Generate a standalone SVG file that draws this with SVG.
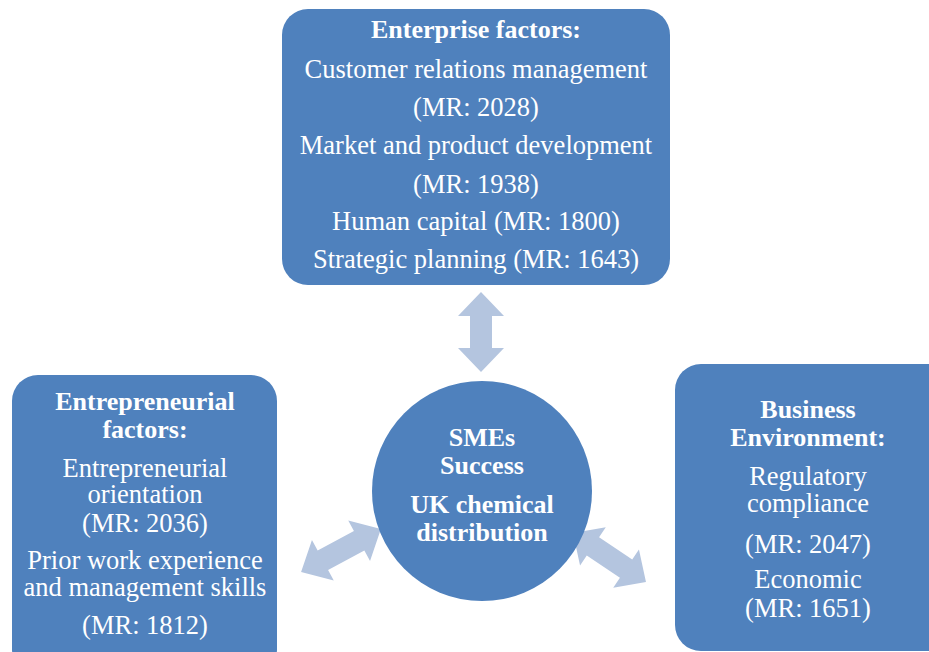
<svg xmlns="http://www.w3.org/2000/svg" width="929" height="652" viewBox="0 0 929 652">
<style>
.box{fill:#4F81BD;}
.arr{fill:#B4C5DF;}
text{font-family:"Liberation Serif","Times New Roman",serif;fill:#FFFFFF;text-anchor:middle;}
.t{font-size:26.5px;}
.b{font-size:26px;font-weight:bold;}
</style>
<defs>
<path id="dbl" d="M -44 0 L -20 -23 L -20 -11 L 20 -11 L 20 -23 L 44 0 L 20 23 L 20 11 L -20 11 L -20 23 Z"/>
</defs>
<g id="connectors">
<path class="arr" d="M -40 0 L -16 -23 L -16 -11 L 16 -11 L 16 -23 L 40 0 L 16 23 L 16 11 L -16 11 L -16 23 Z" transform="translate(481,332) rotate(90)"/>
<use href="#dbl" class="arr" transform="translate(341,550.5) rotate(-28.3) scale(1.03,1)"/>
<use href="#dbl" class="arr" transform="translate(609.5,557.5) rotate(34)"/>
</g>
<g id="enterprise">
<rect class="box" x="282" y="9" width="388" height="276" rx="26"/>
<text class="b" x="476" y="38">Enterprise factors:</text>
<text class="t" x="476" y="78">Customer relations management</text>
<text class="t" x="476" y="116">(MR: 2028)</text>
<text class="t" x="476" y="154">Market and product development</text>
<text class="t" x="476" y="193">(MR: 1938)</text>
<text class="t" x="476" y="230">Human capital (MR: 1800)</text>
<text class="t" x="476" y="268">Strategic planning (MR: 1643)</text>
</g>
<g id="entrepreneurial">
<rect class="box" x="12" y="375" width="265" height="300" rx="26"/>
<text class="b" x="145" y="410">Entrepreneurial</text>
<text class="b" x="145" y="438">factors:</text>
<text class="t" x="145" y="477">Entrepreneurial</text>
<text class="t" x="145" y="503">orientation</text>
<text class="t" x="145" y="532">(MR: 2036)</text>
<text class="t" x="145" y="569">Prior work experience</text>
<text class="t" x="145" y="596">and management skills</text>
<text class="t" x="145" y="634">(MR: 1812)</text>
</g>
<g id="business">
<rect class="box" x="675" y="364" width="290" height="287" rx="26"/>
<text class="b" x="808" y="418">Business</text>
<text class="b" x="808" y="446">Environment:</text>
<text class="t" x="808" y="485">Regulatory</text>
<text class="t" x="808" y="512">compliance</text>
<text class="t" x="808" y="553">(MR: 2047)</text>
<text class="t" x="808" y="588">Economic</text>
<text class="t" x="808" y="617">(MR: 1651)</text>
</g>
<g id="center">
<circle class="box" cx="482" cy="491" r="110"/>
<text class="b" x="482" y="446">SMEs</text>
<text class="b" x="482" y="474">Success</text>
<text class="b" x="482" y="513">UK chemical</text>
<text class="b" x="482" y="541">distribution</text>
</g>
</svg>
